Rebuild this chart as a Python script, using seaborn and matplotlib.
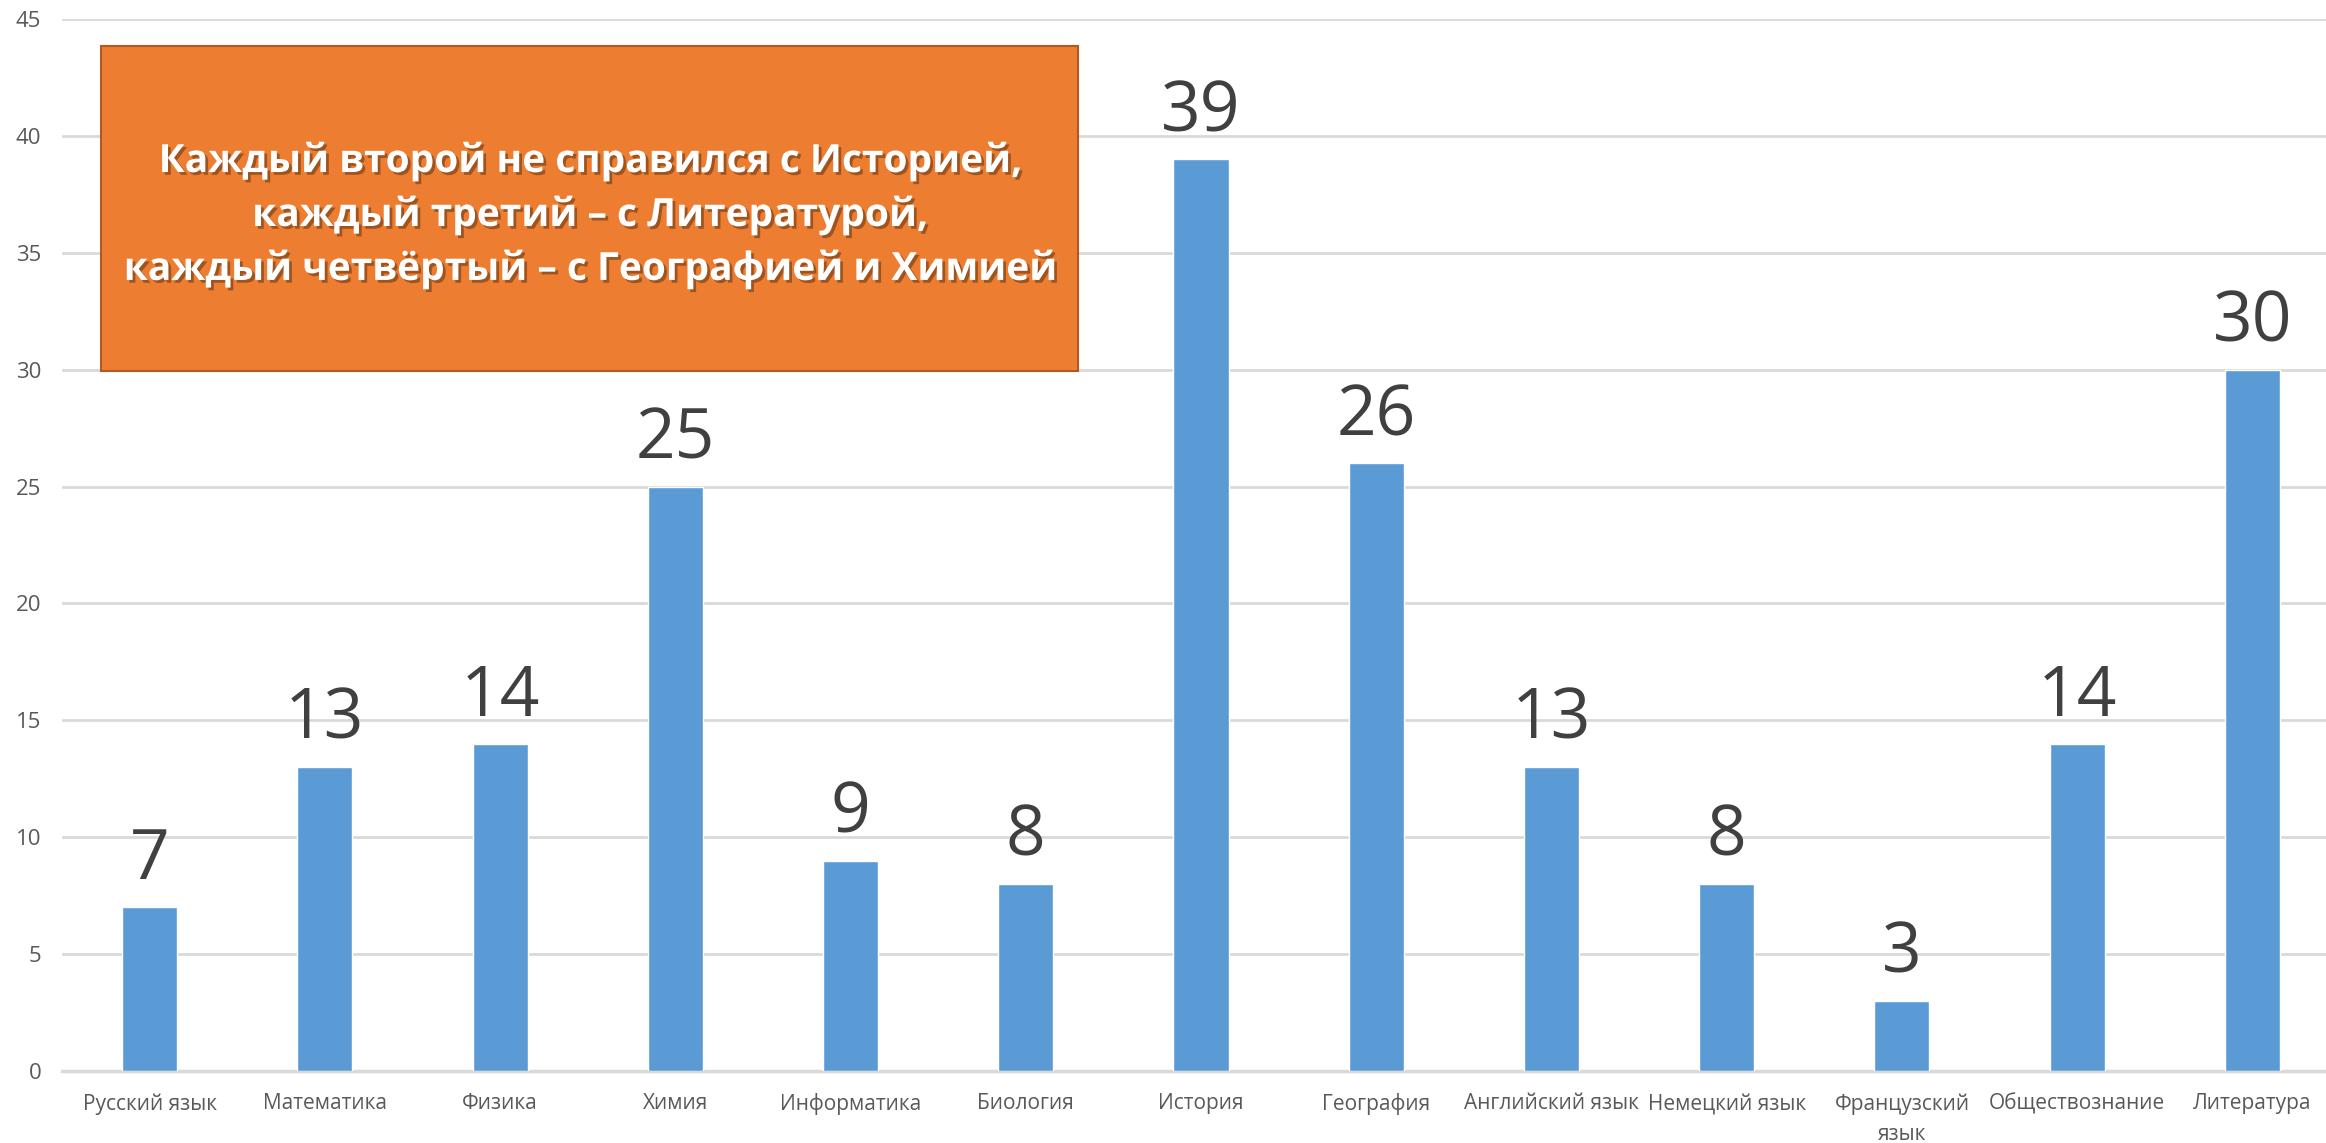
import matplotlib
matplotlib.use('Agg')
import matplotlib.pyplot as plt
import matplotlib.patheffects as pe
from matplotlib.patches import Rectangle
import seaborn as sns
import pandas as pd

subjects = ['Русский язык', 'Математика', 'Физика', 'Химия', 'Информатика',
            'Биология', 'История', 'География', 'Английский язык',
            'Немецкий язык', 'Французский\nязык', 'Обществознание', 'Литература']
failed = [7, 13, 14, 25, 9, 8, 39, 26, 13, 8, 3, 14, 30]
y_ticks = [0, 5, 10, 15, 20, 25, 30, 35, 40, 45]
note = ('Каждый второй не справился с Историей,\n'
        'каждый третий – с Литературой,\n'
        'каждый четвёртый – с Географией и Химией')

df = pd.DataFrame({'subject': subjects, 'failed': failed})

sns.set_style('white')
plt.rcParams['font.family'] = ['Open Sans', 'DejaVu Sans']

fig = plt.figure(figsize=(23.26, 11.43), dpi=100)
ax = fig.add_axes([62 / 2326, 1 - 1071 / 1143, 1 - 62 / 2326, (1071 - 19) / 1143])

sns.barplot(data=df, x='subject', y='failed', color='#5b9bd5', width=0.314,
            saturation=1, ax=ax, zorder=3)

# value labels above the bars
for i, v in enumerate(failed):
    ax.annotate(str(v), (i, v), xytext=(0, 8), textcoords='offset points',
                ha='center', va='bottom', fontsize=50, color='#404040')

ax.set_ylim(0, 45)
ax.set_xlim(-0.5, 12.42)
ax.set_yticks(y_ticks)
ax.yaxis.grid(True, color='#d9d9d9', linewidth=2, zorder=0)
ax.set_axisbelow(True)
for s in ['top', 'right', 'left']:
    ax.spines[s].set_visible(False)
ax.spines['bottom'].set_color('#d9d9d9')
ax.spines['bottom'].set_linewidth(2.5)
ax.tick_params(axis='y', length=0, pad=15, labelsize=16, labelcolor='#595959')
ax.tick_params(axis='x', length=0, pad=16, labelsize=15, labelcolor='#595959')
for lbl in ax.get_xticklabels():
    lbl.set_linespacing(1.55)
ax.set_xlabel('')
ax.set_ylabel('')

# orange callout box
box = Rectangle((101 / 2326, 1 - 371 / 1143), 977 / 2326, 325 / 1143,
                transform=fig.transFigure, facecolor='#ed7d31',
                edgecolor='#ae5a21', linewidth=1.5, zorder=10)
fig.patches.append(box)
fig.text((101 + 1078) / 2 / 2326, 1 - 215 / 1143, note, ha='center', va='center',
         fontsize=28, fontweight='bold', color='white', linespacing=1.45,
         zorder=11,
         path_effects=[pe.withSimplePatchShadow(offset=(2, -2), shadow_rgbFace='#6b3a14', alpha=0.6)])

fig.savefig('out.png', dpi=100)
